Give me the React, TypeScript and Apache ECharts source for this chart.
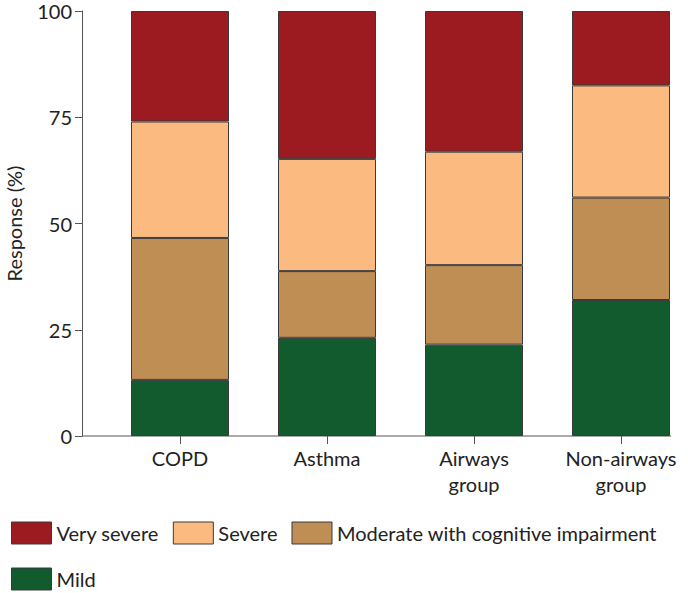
import React, { useEffect, useRef } from "react";
import * as echarts from "echarts";

const categories = ["COPD", "Asthma", "Airways\ngroup", "Non-airways\ngroup"];
const mild = [13.2, 23.1, 21.5, 32.0];
const moderate = [33.4, 15.7, 18.7, 24.1];
const severe = [27.4, 26.4, 26.7, 26.4];
const verySevere = [26.0, 34.8, 33.1, 17.5];
const yTicks = [0, 25, 50, 75, 100];

const FONT = "Lato";
const TEXT = "#222222";
const BORDER = "#3a3a3a";

export default function App() {
  const ref = useRef<HTMLDivElement>(null);
  useEffect(() => {
    if (!ref.current) return;
    const chart = echarts.init(ref.current, undefined, { renderer: "svg" });
    const mk = (name: string, data: number[], color: string) => ({
      name,
      type: "bar",
      stack: "total",
      data,
      barWidth: 98,
      itemStyle: { color, borderColor: BORDER, borderWidth: 1 },
    });
    chart.setOption({
      animation: false,
      textStyle: { fontFamily: FONT },
      grid: { left: 106.5, top: 11, width: 588, height: 425, outerBoundsMode: "none", containLabel: false },
      xAxis: {
        type: "category",
        data: categories,
        axisLine: { show: false },
        axisTick: { show: true, alignWithLabel: true, length: 8, lineStyle: { color: "#555" } },
        axisLabel: { fontSize: 20, color: TEXT, fontFamily: FONT, margin: 9, lineHeight: 26, interval: 0 },
      },
      yAxis: {
        type: "value",
        min: yTicks[0],
        max: yTicks[yTicks.length - 1],
        interval: 25,
        offset: 24.5,
        name: "Response (%)",
        nameLocation: "middle",
        nameGap: 58,
        nameTextStyle: { fontSize: 20, color: TEXT, fontFamily: FONT },
        axisLine: { show: true, lineStyle: { color: "#555" } },
        axisTick: { show: true, length: 7, lineStyle: { color: "#555" } },
        axisLabel: { fontSize: 20, color: TEXT, fontFamily: FONT, margin: 10 },
        splitLine: { show: false },
      },
      legend: {
        left: 6,
        right: 0,
        top: 512,
        itemWidth: 40,
        itemHeight: 22,
        itemGap: 14,
        icon: "rect",
        data: ["Very severe", "Severe", "Moderate with cognitive impairment", "Mild"],
        textStyle: { fontSize: 20, color: TEXT, fontFamily: FONT, lineHeight: 32 },
        itemStyle: { borderColor: BORDER, borderWidth: 1 },
      },
      graphic: [
        {
          type: "line",
          shape: { x1: 82, y1: 436, x2: 671, y2: 436 },
          style: { stroke: "#555", lineWidth: 1 },
        },
      ],
      series: [
        mk("Mild", mild, "#115B2F"),
        mk("Moderate with cognitive impairment", moderate, "#BF8E54"),
        mk("Severe", severe, "#FBBA80"),
        mk("Very severe", verySevere, "#9B1B20"),
      ],
    });
    return () => chart.dispose();
  }, []);
  return <div ref={ref} style={{ width: 688, height: 593, position: "absolute", left: 0, top: 0 }} />;
}
